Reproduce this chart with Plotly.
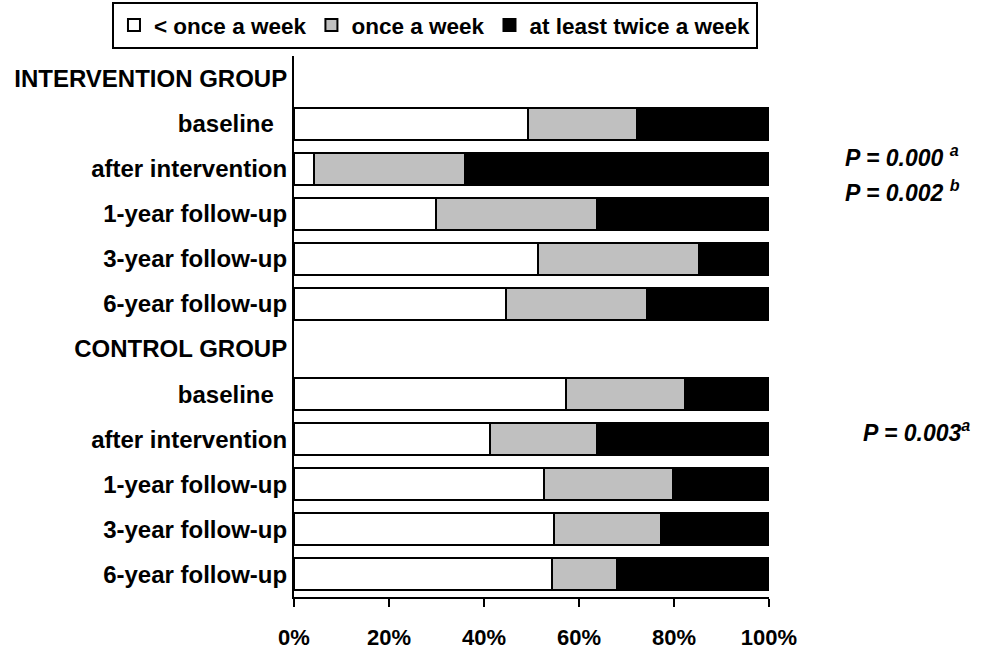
import plotly.graph_objects as go

# Row labels, top to bottom (group headers carry no bar)
rows = [
    "INTERVENTION GROUP",
    "baseline\u00a0\u00a0",
    "after intervention",
    "1-year follow-up",
    "3-year follow-up",
    "6-year follow-up",
    "CONTROL GROUP",
    "baseline\u00a0\u00a0",
    "after intervention",
    "1-year follow-up",
    "3-year follow-up",
    "6-year follow-up",
]

# Percentage of participants per frequency category
less_than_once = [None, 49.3, 4.2, 29.8, 51.4, 44.6, None, 57.3, 41.3, 52.6, 54.7, 54.3]
once_weekly = [None, 22.9, 31.8, 34.0, 33.9, 29.7, None, 25.0, 22.5, 27.2, 22.6, 13.7]
twice_or_more = [None, 27.8, 64.0, 36.2, 14.7, 25.7, None, 17.7, 36.2, 20.2, 22.7, 32.0]

series_names = ["< once a week", "once a week", "at least twice a week"]
series_colors = ["#FFFFFF", "#C0C0C0", "#000000"]

x_ticks = [0, 20, 40, 60, 80, 100]

FONT = "Arial, Liberation Sans, sans-serif"
positions = list(range(len(rows)))

fig = go.Figure()
for name, vals, col in zip(series_names, [less_than_once, once_weekly, twice_or_more], series_colors):
    fig.add_trace(go.Bar(
        name=name,
        x=vals,
        y=positions,
        orientation="h",
        marker=dict(color=col, line=dict(color="black", width=2)),
        hoverinfo="x+name",
    ))

fig.update_layout(
    width=986,
    height=651,
    barmode="stack",
    bargap=0.29,
    plot_bgcolor="white",
    paper_bgcolor="white",
    margin=dict(l=294, r=217, t=56, b=54, pad=0, autoexpand=False),
    font=dict(family=FONT, size=22, color="black"),
    showlegend=True,
    legend=dict(
        orientation="h",
        x=-0.3832,
        xanchor="left",
        y=1.1,
        yanchor="top",
        bordercolor="black",
        borderwidth=2,
        font=dict(family=FONT, size=22.5, color="black", weight="bold"),
        traceorder="normal",
    ),
    xaxis=dict(
        range=[0, 100],
        tickvals=x_ticks,
        ticktext=[f"<b>{v}%</b>" for v in x_ticks],
        ticks="outside",
        ticklen=8,
        tickwidth=2,
        tickcolor="black",
        showline=True,
        linecolor="black",
        linewidth=2,
        showgrid=False,
        zeroline=False,
        ticklabelstandoff=12,
        tickfont=dict(size=22),
        automargin=False,
        fixedrange=True,
    ),
    yaxis=dict(
        range=[len(rows) - 0.5, -0.5],
        tickvals=positions,
        ticktext=[f"<b>{r}</b>" for r in rows],
        ticks="",
        showline=True,
        linecolor="black",
        linewidth=2,
        showgrid=False,
        zeroline=False,
        tickfont=dict(size=24),
        automargin=False,
        fixedrange=True,
    ),
)

# Significance annotations to the right of the bars
p_notes = [
    ("P = 0.000 <sup>a</sup>", 1.156, 0.816),
    ("P = 0.002 <sup>b</sup>", 1.156, 0.75),
    ("P = 0.003<sup>a</sup>", 1.194, 0.307),
]
for txt, xp, yp in p_notes:
    fig.add_annotation(
        text=f"<b><i>{txt}</i></b>",
        xref="paper", yref="paper",
        x=xp, y=yp,
        xanchor="left", yanchor="middle",
        showarrow=False,
        font=dict(family=FONT, size=23, color="black"),
    )

fig.write_html("out.html")
